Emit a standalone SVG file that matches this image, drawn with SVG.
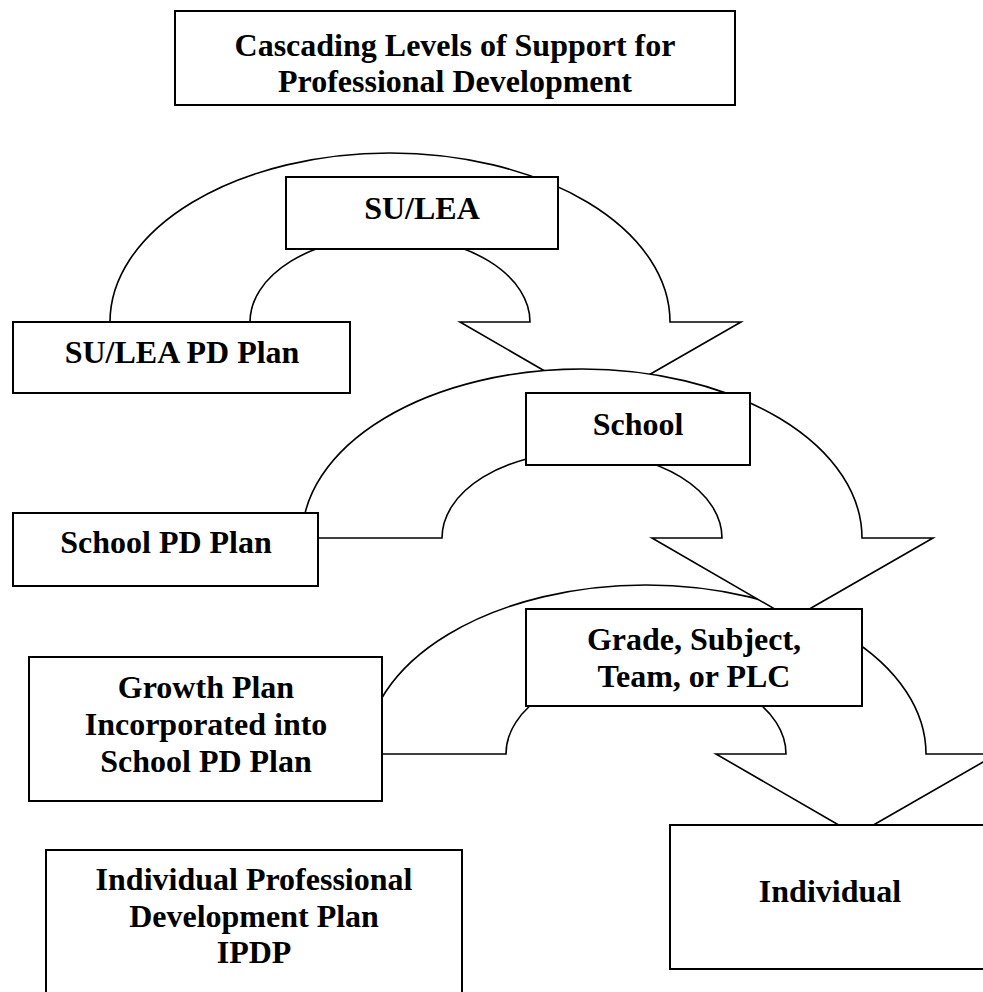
<svg xmlns="http://www.w3.org/2000/svg" xmlns:xlink="http://www.w3.org/1999/xlink" width="983" height="992" viewBox="0 0 983 992">
  <style>
    .box { fill: #ffffff; stroke: #000000; stroke-width: 2; }
    .arrow { fill: #ffffff; stroke: #000000; stroke-width: 1.6; stroke-linejoin: miter; }
    .lbl { font-family: "Liberation Serif", "Times New Roman", serif; font-weight: bold; font-size: 32px; fill: #000000; text-anchor: middle; }
  </style>
  <defs>
    <path id="curvedArrow" d="M-280,0 A280,169 0 0 1 280,0 L351,0 L210,81 L70,0 L140,0 A140,86 0 0 0 -140,0 Z"/>
  </defs>
  <rect x="0" y="0" width="983" height="992" fill="#ffffff"/>

  <g id="connectors">
    <use xlink:href="#curvedArrow" class="arrow" transform="translate(390,322)"/>
    <use xlink:href="#curvedArrow" class="arrow" transform="translate(646,754)"/>
    <use xlink:href="#curvedArrow" class="arrow" transform="translate(582,538)"/>
  </g>

  <g id="title">
    <rect class="box" x="175" y="11" width="560" height="94"/>
    <text class="lbl" x="455" y="56">Cascading Levels of Support for</text>
    <text class="lbl" x="455" y="92">Professional Development</text>
  </g>

  <g id="su-lea">
    <rect class="box" x="286" y="177" width="272" height="72"/>
    <text class="lbl" x="422" y="219">SU/LEA</text>
  </g>

  <g id="su-lea-pd-plan">
    <rect class="box" x="13" y="322" width="337" height="71"/>
    <text class="lbl" x="182" y="363">SU/LEA PD Plan</text>
  </g>

  <g id="school">
    <rect class="box" x="526" y="393" width="224" height="72"/>
    <text class="lbl" x="638" y="435">School</text>
  </g>

  <g id="school-pd-plan">
    <rect class="box" x="13" y="513" width="305" height="73"/>
    <text class="lbl" x="166" y="553">School PD Plan</text>
  </g>

  <g id="grade-subject-team">
    <rect class="box" x="526" y="609" width="336" height="97"/>
    <text class="lbl" x="694" y="650">Grade, Subject,</text>
    <text class="lbl" x="694" y="687">Team, or PLC</text>
  </g>

  <g id="growth-plan">
    <rect class="box" x="29" y="657" width="353" height="144"/>
    <text class="lbl" x="206" y="698">Growth Plan</text>
    <text class="lbl" x="206" y="735">Incorporated into</text>
    <text class="lbl" x="206" y="772">School PD Plan</text>
  </g>

  <g id="individual">
    <rect class="box" x="670" y="825" width="330" height="144"/>
    <text class="lbl" x="830" y="902">Individual</text>
  </g>

  <g id="ipdp">
    <rect class="box" x="46" y="850" width="416" height="160"/>
    <text class="lbl" x="254" y="890">Individual Professional</text>
    <text class="lbl" x="254" y="927">Development Plan</text>
    <text class="lbl" x="254" y="963">IPDP</text>
  </g>
</svg>
